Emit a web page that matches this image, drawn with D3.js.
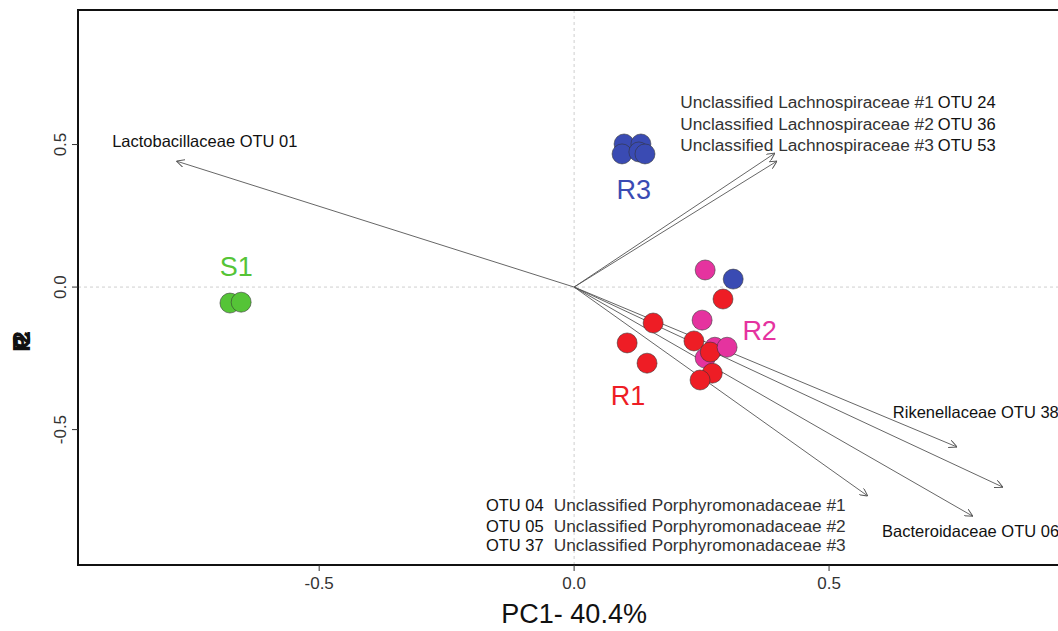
<!DOCTYPE html>
<html>
<head>
<style>
html, body {
    margin: 0;
    padding: 0;
    background: #fff;
    overflow: hidden;
    font-family: Arial, "Liberation Sans", sans-serif;
}
</style>
</head>
<body>
<script src="https://cdn.jsdelivr.net/npm/d3@7/dist/d3.min.js"></script>
<script>
const [width, height] = [1058, 631];

// sample scores (PC1, PC2), drawn in this order
const group = ["S1", "S1", "R3", "R3", "R3", "R3", "R3", "R3",
    "R2", "R2", "R2", "R2",
    "R1", "R1", "R1", "R1", "R1", "R1", "R1", "R1", "R2"];
const pc1 = [-0.675, -0.653, 0.098, 0.131, 0.094, 0.127, 0.139, 0.312,
    0.257, 0.251, 0.276, 0.257,
    0.292, 0.155, 0.104, 0.143, 0.235, 0.267, 0.271, 0.247, 0.300];
const pc2 = [-0.056, -0.053, 0.502, 0.502, 0.467, 0.474, 0.467, 0.028,
    0.060, -0.116, -0.211, -0.249,
    -0.042, -0.126, -0.196, -0.267, -0.189, -0.228, -0.302, -0.326, -0.211];

const groupNames = ["S1", "R3", "R2", "R1"];
const groupColors = ["#55c437", "#3a4bb3", "#e5339f", "#ee1d25"];
const groupLabelX = [-0.695, 0.083, 0.330, 0.072];
const groupLabelY = [0.040, 0.310, -0.185, -0.415];

// loading arrows
const arrowX = [-0.780, 0.394, 0.398, 0.751, 0.841, 0.782, 0.576];
const arrowY = [0.442, 0.470, 0.442, -0.561, -0.702, -0.804, -0.733];

// loading labels: taxon part (grey) and OTU part (black)
const labelTaxon = ["", "Unclassified Lachnospiraceae #1", "Unclassified Lachnospiraceae #2",
    "Unclassified Lachnospiraceae #3", "", "",
    "Unclassified Porphyromonadaceae #1", "Unclassified Porphyromonadaceae #2",
    "Unclassified Porphyromonadaceae #3"];
const labelOtu = ["Lactobacillaceae OTU 01", "OTU 24", "OTU 36", "OTU 53",
    "Rikenellaceae OTU 38", "Bacteroidaceae OTU 06", "OTU 04", "OTU 05", "OTU 37"];
const labelOtuFirst = [true, false, false, false, true, true, true, true, true];
const labelX = [-0.906, 0.208, 0.208, 0.208, 0.625, 0.604, -0.173, -0.173, -0.173];
const labelY = [0.491, 0.627, 0.551, 0.477, -0.460, -0.877, -0.786, -0.860, -0.926];

const xTicks = [-0.5, 0.0, 0.5];
const yTicks = [-0.5, 0.0, 0.5];

const margin = {left: 78, top: 10, bottom: 66};

const x = d3.scaleLinear().domain([-0.973, 0.949]).range([margin.left, width]);
const y = d3.scaleLinear().domain([-0.975, 0.972]).range([height - margin.bottom, margin.top]);
const color = d3.scaleOrdinal(groupNames, groupColors);

const svg = d3.select("body").append("svg")
    .attr("width", width)
    .attr("height", height);

// zero lines
svg.append("line")
    .attr("x1", x(0)).attr("x2", x(0))
    .attr("y1", y.range()[1]).attr("y2", y.range()[0])
    .attr("stroke", "#cfcfcf").attr("stroke-dasharray", "3,3");
svg.append("line")
    .attr("x1", x.range()[0]).attr("x2", width)
    .attr("y1", y(0)).attr("y2", y(0))
    .attr("stroke", "#cfcfcf").attr("stroke-dasharray", "3,3");

// arrows
svg.append("defs").append("marker")
    .attr("id", "head")
    .attr("viewBox", "0 0 10 10")
    .attr("refX", 10).attr("refY", 5)
    .attr("markerWidth", 8).attr("markerHeight", 8)
    .attr("markerUnits", "userSpaceOnUse")
    .attr("orient", "auto")
  .append("path")
    .attr("d", "M0,0 L10,5 L0,10")
    .attr("fill", "none")
    .attr("stroke", "#555")
    .attr("stroke-width", 1.2);

svg.append("g")
    .selectAll("line")
    .data(arrowX)
    .join("line")
        .attr("x1", x(0)).attr("y1", y(0))
        .attr("x2", d => x(d))
        .attr("y2", (d, i) => y(arrowY[i]))
        .attr("stroke", "#555")
        .attr("stroke-width", 0.9)
        .attr("marker-end", "url(#head)");

// points
svg.append("g")
    .selectAll("circle")
    .data(pc1)
    .join("circle")
        .attr("cx", d => x(d))
        .attr("cy", (d, i) => y(pc2[i]))
        .attr("r", 10)
        .attr("fill", (d, i) => color(group[i]))
        .attr("stroke", "#333")
        .attr("stroke-opacity", 0.7)
        .attr("stroke-width", 0.8);

// group labels
svg.append("g")
    .selectAll("text")
    .data(groupNames)
    .join("text")
        .attr("x", (d, i) => x(groupLabelX[i]))
        .attr("y", (d, i) => y(groupLabelY[i]))
        .attr("fill", d => color(d))
        .attr("font-size", 27)
        .text(d => d);

// loading labels
const lab = svg.append("g")
    .selectAll("text")
    .data(labelOtu)
    .join("text")
        .attr("x", (d, i) => x(labelX[i]))
        .attr("y", (d, i) => y(labelY[i]))
        .attr("font-size", 16.5);

lab.each(function(d, i) {
    const t = d3.select(this);
    const taxon = labelTaxon[i];
    const parts = labelOtuFirst[i]
        ? [[d, "#111", 16.5], [taxon, "#333", 17.3]]
        : [[taxon, "#333", 17.3], [d, "#111", 16.5]];
    parts.forEach(([s, c, fs], k) => {
        if (!s) return;
        t.append("tspan")
            .attr("fill", c)
            .attr("font-size", fs)
            .attr("dx", k > 0 ? (labelOtuFirst[i] ? 10 : 4) : 0)
            .text(s);
    });
});

// frame (right side runs off the picture)
const frame = svg.append("g").attr("stroke", "#111").attr("stroke-width", 2).attr("fill", "none");
frame.append("path")
    .attr("d", `M${width + 5},${y.range()[1]} H${x.range()[0]} V${y.range()[0]} H${width + 5}`);

// x axis
const xAxis = svg.append("g").attr("transform", `translate(0,${y.range()[0]})`);
xAxis.selectAll("line")
    .data(xTicks)
    .join("line")
        .attr("x1", d => x(d)).attr("x2", d => x(d))
        .attr("y1", 0).attr("y2", 6)
        .attr("stroke", "#333");
xAxis.selectAll("text")
    .data(xTicks)
    .join("text")
        .attr("x", d => x(d))
        .attr("y", 24)
        .attr("text-anchor", "middle")
        .attr("font-size", 17)
        .attr("fill", "#333")
        .text(d => d3.format(".1f")(d).replace("−", "-"));

// y axis
const yAxis = svg.append("g").attr("transform", `translate(${x.range()[0]},0)`);
yAxis.selectAll("line")
    .data(yTicks)
    .join("line")
        .attr("x1", -6).attr("x2", 0)
        .attr("y1", d => y(d)).attr("y2", d => y(d))
        .attr("stroke", "#333");
yAxis.selectAll("text")
    .data(yTicks)
    .join("text")
        .attr("transform", d => `translate(-12,${y(d)}) rotate(-90)`)
        .attr("text-anchor", "middle")
        .attr("font-size", 17)
        .attr("fill", "#333")
        .text(d => d3.format(".1f")(d).replace("−", "-"));

// axis titles
svg.append("text")
    .attr("x", x(0))
    .attr("y", 623)
    .attr("text-anchor", "middle")
    .attr("font-size", 27)
    .attr("fill", "#111")
    .text("PC1- 40.4%");

svg.append("text")
    .attr("transform", `translate(30,348) rotate(-90)`)
    .attr("text-anchor", "middle")
    .attr("font-size", 24)
    .attr("font-weight", "bold")
    .attr("letter-spacing", -13)
    .attr("fill", "#111")
    .text("PC2");
</script>
</body>
</html>
